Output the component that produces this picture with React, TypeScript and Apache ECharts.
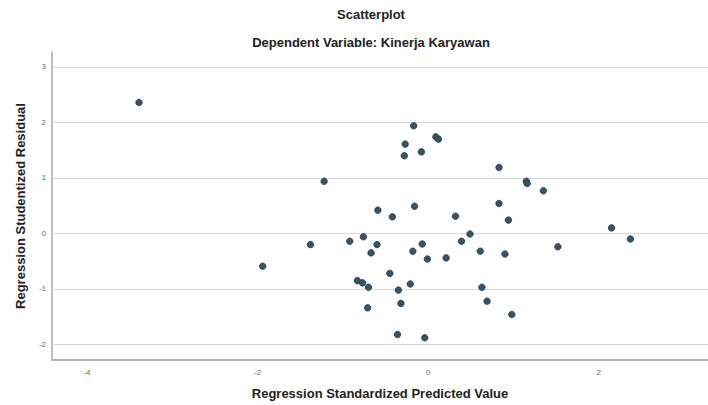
import React, { useEffect, useRef } from "react";
import * as echarts from "echarts";

const titleText = "Scatterplot";
const subtitleText = "Dependent Variable: Kinerja Karyawan";
const xAxisName = "Regression Standardized Predicted Value";
const yAxisName = "Regression Studentized Residual";

const xTicks = [-4, -2, 0, 2];
const yTicks = [-2, -1, 0, 1, 2, 3];

const predicted = [
  -3.39, -1.22, -0.17, -0.27, -0.28, -0.08, 0.09, 0.12, 0.83, 1.15, 1.16, 1.35,
  -0.59, -0.42, -0.16, 0.32, 0.83, 0.94, -1.38, -0.92, -0.76, -0.6, -0.67, -0.18,
  -0.07, -0.01, 0.21, 0.39, 0.49, 0.61, 0.9, -0.83, -0.77, -0.7, -0.45, -0.21,
  -0.35, -0.71, -0.32, 0.63, 0.69, 0.98, -0.36, -0.04, -1.94, 1.52, 2.15, 2.37,
];
const residual = [
  2.36, 0.94, 1.94, 1.61, 1.4, 1.47, 1.74, 1.7, 1.19, 0.94, 0.9, 0.77,
  0.42, 0.3, 0.49, 0.31, 0.54, 0.24, -0.2, -0.14, -0.06, -0.2, -0.35, -0.32,
  -0.19, -0.46, -0.44, -0.14, -0.01, -0.32, -0.37, -0.85, -0.89, -0.97, -0.72, -0.91,
  -1.02, -1.34, -1.26, -0.97, -1.22, -1.46, -1.82, -1.88, -0.59, -0.24, 0.1, -0.1,
];

export default function App() {
  const ref = useRef<HTMLDivElement>(null);
  useEffect(() => {
    if (!ref.current) return;
    const chart = echarts.init(ref.current, null, { renderer: "svg" });
    const points = predicted.map((x, i) => [x, residual[i]]);
    chart.setOption({
      animation: false,
      backgroundColor: "#ffffff",
      textStyle: { fontFamily: "Liberation Sans, Arial, sans-serif" },
      title: [
        {
          text: titleText,
          left: 366,
          top: 3,
          textAlign: "center",
          textStyle: { fontSize: 13, fontWeight: "bold", color: "#222" },
        },
        {
          text: subtitleText,
          left: 366,
          top: 31,
          textAlign: "center",
          textStyle: { fontSize: 13, fontWeight: "bold", color: "#222" },
        },
      ],
      grid: { left: 52, right: 0, top: 52, bottom: 43.5 },
      xAxis: {
        type: "value",
        min: -4.41,
        max: 3.28,
        name: xAxisName,
        nameLocation: "middle",
        nameGap: 27,
        nameTextStyle: { fontSize: 13, fontWeight: "bold", color: "#222" },
        axisLine: { show: true, onZero: false, lineStyle: { color: "#b4b4b4", width: 2 } },
        axisTick: { show: false },
        splitLine: { show: false },
        axisLabel: { customValues: xTicks, fontSize: 8, color: "#666", margin: 8 },
      },
      yAxis: {
        type: "value",
        min: -2.28,
        max: 3.27,
        name: yAxisName,
        nameLocation: "middle",
        nameGap: 25,
        nameTextStyle: { fontSize: 13, fontWeight: "bold", color: "#222" },
        axisLine: { show: true, onZero: false, lineStyle: { color: "#a8a8a8", width: 1.5 } },
        axisTick: { show: false },
        splitLine: { show: false },
        axisLabel: { customValues: yTicks, fontSize: 8, color: "#666", margin: 6 },
      },
      series: [
        {
          type: "scatter",
          data: points,
          symbol: "circle",
          symbolSize: 6.5,
          itemStyle: { color: "#365468", borderColor: "#24384a", borderWidth: 0.8, opacity: 1 },
          markLine: {
            silent: true,
            symbol: "none",
            label: { show: false },
            lineStyle: { color: "#d9d9d9", width: 1.2, type: "solid" },
            data: yTicks.map((v) => ({ yAxis: v })),
            z: 1,
          },
          z: 3,
        },
      ],
    });
    return () => chart.dispose();
  }, []);
  return (
    <div
      ref={ref}
      style={{ position: "fixed", left: 0, top: 0, width: 708, height: 405 }}
    />
  );
}
